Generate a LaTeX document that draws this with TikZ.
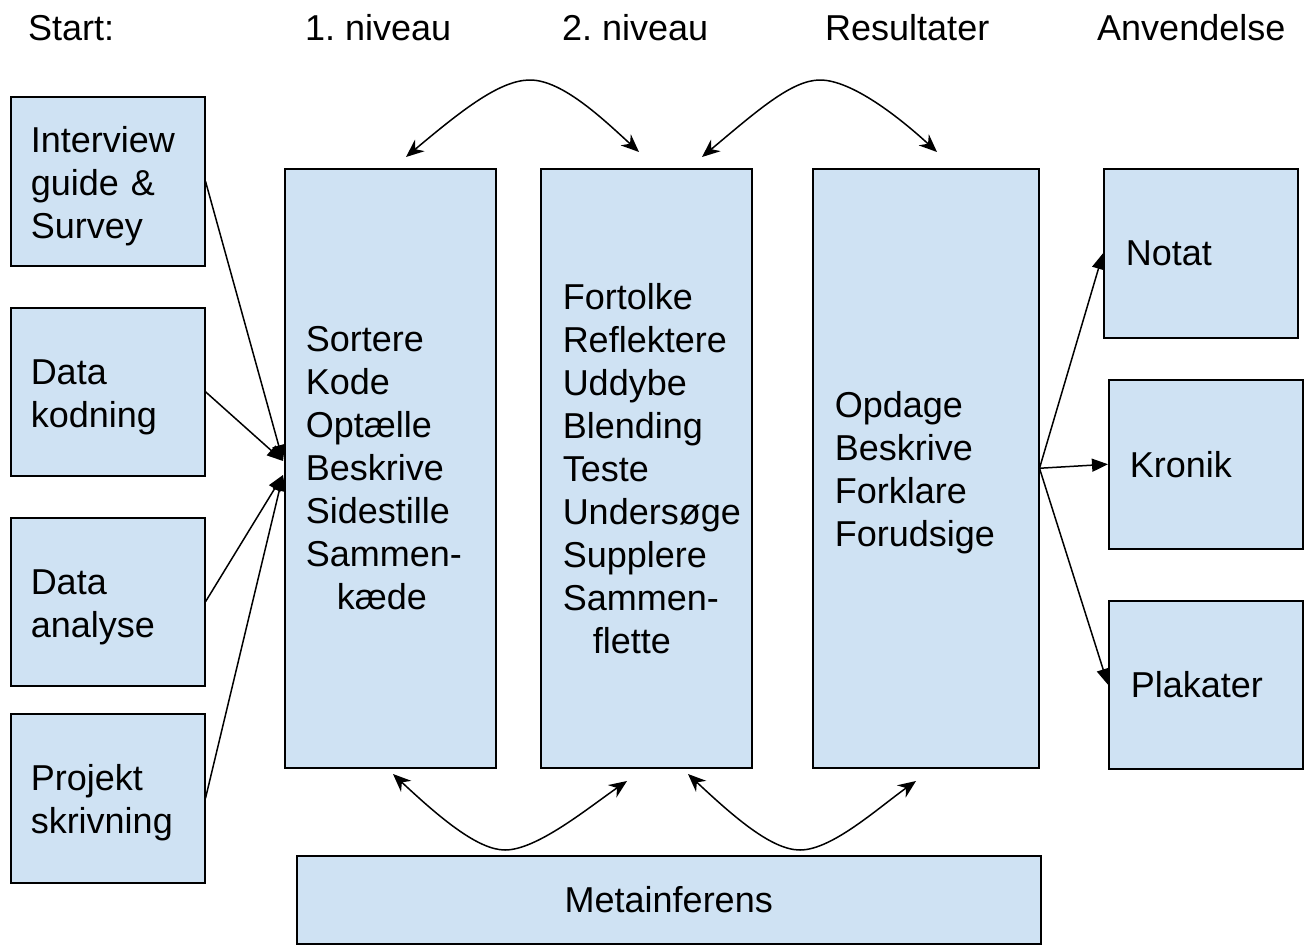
\documentclass[tikz,border=0pt]{standalone}
\usepackage{fontspec}
\setmainfont{Liberation Sans}
\usetikzlibrary{arrows.meta}
\definecolor{boxblue}{RGB}{207,226,243}
\frenchspacing
\newcommand{\dropline}{\rule{0pt}{35pt}}

\begin{document}
\begin{tikzpicture}[x=1pt,y=1pt,yscale=-1,xscale=1,
	box/.style={draw=black,fill=boxblue,line width=1.5pt,anchor=north west,inner ysep=0pt,align=left,font=\fontsize{36}{43}\selectfont},
	head/.style={anchor=west,inner sep=0pt,font=\fontsize{36}{43}\selectfont},
	arr/.style={-{Triangle[length=16pt,width=13pt]},line width=1.5pt},
	twoway/.style={{Stealth[length=18pt,width=15pt]}-{Stealth[length=18pt,width=15pt]},line width=1.5pt}]
	\useasboundingbox (0,0) rectangle (1307,945);
	
	% Headers
	\node[head] (hStart) at (28,28) {Start:};
	\node[head] (hOne) at (305,28) {1. niveau};
	\node[head] (hTwo) at (562,28) {2. niveau};
	\node[head] (hRes) at (825,28) {Resultater};
	\node[head] (hUse) at (1097,28) {Anvendelse};
	
	%Shape: start boxes
	\node[box,inner xsep=20pt,text width=154pt,minimum height=169pt] (intv) at (10,96) {\dropline Interview\\guide \&\\Survey};
	\node[box,inner xsep=20pt,text width=154pt,minimum height=168pt] (kodn) at (10,307) {\dropline Data\\kodning};
	\node[box,inner xsep=20pt,text width=154pt,minimum height=168pt] (anal) at (10,517) {\dropline Data\\analyse};
	\node[box,inner xsep=20pt,text width=154pt,minimum height=169pt] (proj) at (10,713) {\dropline Projekt\\skrivning};
	
	%Shape: levels and results
	\node[box,inner xsep=21pt,text width=169pt,minimum height=599pt] (lvlA) at (284,168) {Sortere\\Kode\\Optælle\\Beskrive\\Sidestille\\Sammen-\\\hspace*{31pt}kæde};
	\node[box,inner xsep=22pt,text width=167pt,minimum height=599pt] (lvlB) at (540,168) {Fortolke\\Reflektere\\Uddybe\\Blending\\Teste\\Undersøge\\Supplere\\Sammen-\\\hspace*{30pt}flette};
	\node[box,inner xsep=22pt,text width=182pt,minimum height=599pt] (res) at (812,168) {\dropline Opdage\\Beskrive\\Forklare\\Forudsige};
	
	%Shape: use boxes
	\node[box,inner xsep=22pt,text width=150pt,minimum height=169pt] (notat) at (1103,168) {Notat};
	\node[box,inner xsep=21pt,text width=152pt,minimum height=169pt] (kron) at (1108,379) {Kronik};
	\node[box,inner xsep=22pt,text width=150pt,minimum height=168pt] (plak) at (1108,600) {Plakater};
	
	%Shape: meta box
	\node[box,inner xsep=22pt,text width=700pt,minimum height=88pt,align=center] (meta) at (296,855) {Metainferens};
	
	%Straight Lines: into 1. niveau
	\coordinate (inA) at (283,461);
	\coordinate (inB) at (283,475);
	\draw[arr] (intv.east) -- (inA);
	\draw[arr] (kodn.east) -- (inA);
	\draw[arr] (anal.east) -- (inB);
	\draw[arr] (proj.east) -- (inB);
	
	%Straight Lines: out of results
	\draw[arr] (res.east) -- (notat.west);
	\draw[arr] (res.east) -- (kron.west);
	\draw[arr] (res.east) -- (plak.west);
	
	%Curves: top
	\coordinate (tA1) at (406,157);
	\coordinate (tA2) at (639,152);
	\coordinate (tB1) at (702,157);
	\coordinate (tB2) at (937,152);
	\draw[twoway] (tA1) .. controls (462,110) and (500,80) .. (530,80) .. controls (562,80) and (602,118) .. (tA2);
	\draw[twoway] (tB1) .. controls (758,110) and (792,80) .. (820,80) .. controls (852,80) and (900,118) .. (tB2);
	
	%Curves: bottom
	\coordinate (bA1) at (393,774);
	\coordinate (bA2) at (627,781);
	\coordinate (bB1) at (688,774);
	\coordinate (bB2) at (916,781);
	\draw[twoway] (bA1) .. controls (440,818) and (478,850) .. (505,850) .. controls (537,850) and (588,808) .. (bA2);
	\draw[twoway] (bB1) .. controls (735,818) and (772,850) .. (800,850) .. controls (832,850) and (878,808) .. (bB2);
	
\end{tikzpicture}
\end{document}
